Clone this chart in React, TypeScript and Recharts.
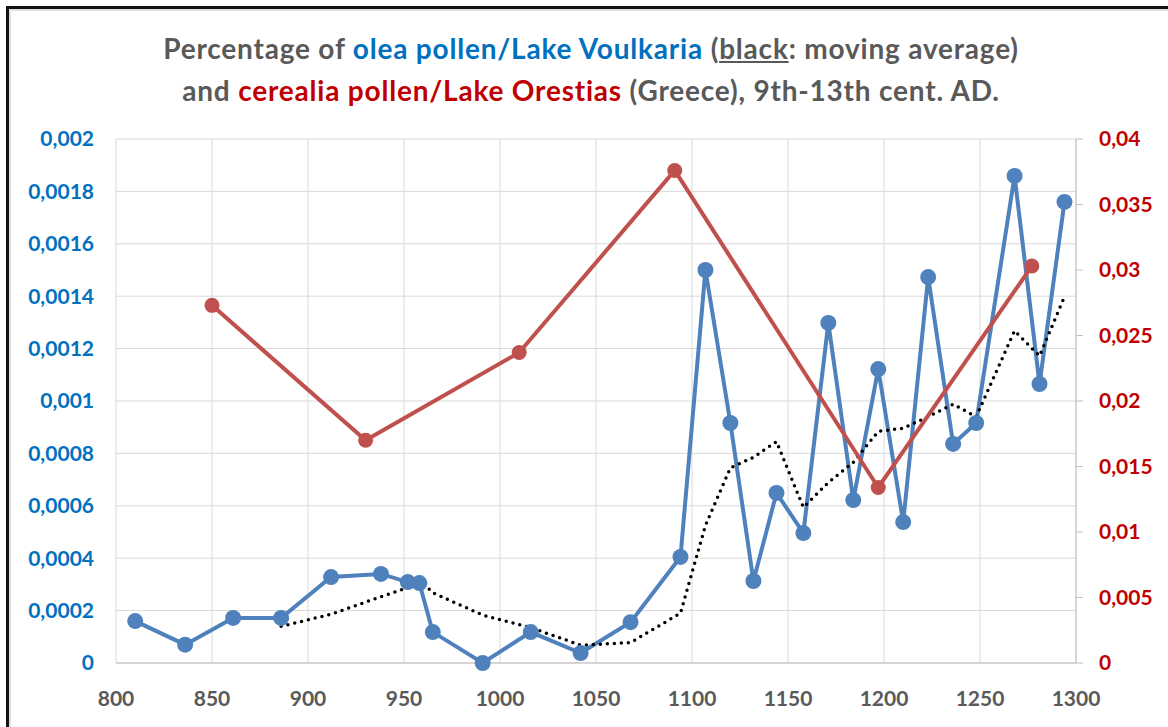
import React from "react";
import {
  ComposedChart,
  Line,
  XAxis,
  YAxis,
  CartesianGrid,
} from "recharts";

// olea pollen, Lake Voulkaria (left axis)
const oleaYears = [
  810, 836, 861, 886, 912, 938, 952, 958, 965, 991, 1016, 1042, 1068, 1094,
  1107, 1120, 1132, 1144, 1158, 1171, 1184, 1197, 1210, 1223, 1236, 1248,
  1268, 1281, 1294,
];
const oleaValues = [
  0.00016, 0.00007, 0.000172, 0.000172, 0.000328, 0.00034, 0.000309,
  0.000305, 0.000118, 0, 0.000118, 0.000038, 0.000156, 0.000405, 0.0015,
  0.000916, 0.000313, 0.000649, 0.000496, 0.001298, 0.000622, 0.001122,
  0.000538, 0.001473, 0.000836, 0.000916, 0.001859, 0.001065, 0.00176,
];

// black dotted moving average (starts at 4th point)
const avgYears = [
  886, 912, 938, 952, 958, 965, 991, 1016, 1042, 1068, 1094, 1107, 1120,
  1132, 1144, 1158, 1171, 1184, 1197, 1210, 1223, 1236, 1248, 1268, 1281,
  1294,
];
const avgValues = [
  0.00014, 0.000186, 0.000253, 0.000288, 0.00032, 0.000268, 0.000183,
  0.000135, 0.000068, 0.000078, 0.00019, 0.000525, 0.000745, 0.000785,
  0.000845, 0.000594, 0.000689, 0.000766, 0.000884, 0.000896, 0.00094,
  0.000988, 0.00094, 0.001268, 0.001172, 0.001398,
];

// cerealia pollen, Lake Orestias (right axis)
const cerealiaYears = [850, 930, 1010, 1091, 1197, 1277];
const cerealiaValues = [0.0273, 0.017, 0.0237, 0.0376, 0.0134, 0.0303];

const xTicks = [800, 850, 900, 950, 1000, 1050, 1100, 1150, 1200, 1250, 1300];
const leftTicks = [
  0, 0.0002, 0.0004, 0.0006, 0.0008, 0.001, 0.0012, 0.0014, 0.0016, 0.0018,
  0.002,
];
const rightTicks = [0, 0.005, 0.01, 0.015, 0.02, 0.025, 0.03, 0.035, 0.04];

const oleaData = oleaYears.map((x, i) => ({ x, v: oleaValues[i] }));
const avgData = avgYears.map((x, i) => ({ x, v: avgValues[i] }));
const cerealiaData = cerealiaYears.map((x, i) => ({ x, v: cerealiaValues[i] }));

const comma = (v: number) => String(v).replace(".", ",");

const FONT = "Lato, 'Open Sans', sans-serif";
const GRAY = "#595959";
const BLUE_TXT = "#0070C0";
const RED_TXT = "#C00000";

export default function App() {
  return (
    <div
      style={{
        position: "absolute",
        left: 0,
        top: 0,
        width: 1168,
        height: 727,
        background: "#fff",
        overflow: "hidden",
        fontFamily: FONT,
      }}
    >
      {/* frame */}
      <div
        style={{
          position: "absolute",
          left: 6,
          top: 6,
          width: 1200,
          height: 800,
          borderLeft: "3px solid #111",
          borderTop: "3px solid #111",
        }}
      />
      <div
        style={{
          position: "absolute",
          left: 9,
          top: 9,
          width: 1200,
          height: 800,
          borderLeft: "2px solid #e0e0e0",
          borderTop: "2px solid #e0e0e0",
        }}
      />
      <div
        style={{
          position: "absolute",
          left: 0,
          top: 27,
          width: 1182,
          textAlign: "center",
          fontSize: 28,
          letterSpacing: 0.8,
          fontWeight: 700,
          color: GRAY,
          lineHeight: "42px",
        }}
      >
        <div>
          Percentage of{" "}
          <span style={{ color: BLUE_TXT }}>olea pollen/Lake Voulkaria</span> (
          <span style={{ textDecoration: "underline" }}>black</span>: moving
          average)
        </div>
        <div>
          and{" "}
          <span style={{ color: RED_TXT }}>cerealia pollen/Lake Orestias</span>{" "}
          (Greece), 9th-13th cent. AD.
        </div>
      </div>

      <div style={{ position: "absolute", left: 0, top: 0 }}>
        <ComposedChart
          width={1168}
          height={727}
          margin={{ top: 139, right: 0, bottom: 0, left: 0 }}
        >
          <CartesianGrid yAxisId="left" stroke="#D9D9D9" strokeWidth={1} />
          <XAxis
            dataKey="x"
            type="number"
            domain={[800, 1300]}
            ticks={xTicks}
            height={64}
            tickLine={false}
            axisLine={{ stroke: "#BFBFBF" }}
            tickMargin={22}
            tick={{ fill: GRAY, fontSize: 21, fontWeight: 700, fontFamily: FONT }}
          />
          <YAxis
            yAxisId="left"
            width={116}
            domain={[0, 0.002]}
            ticks={leftTicks}
            tickFormatter={comma}
            axisLine={false}
            tickLine={false}
            tickSize={0}
            tickMargin={22}
            tick={{ fill: BLUE_TXT, fontSize: 21, fontWeight: 700, fontFamily: FONT }}
          />
          <YAxis
            yAxisId="right"
            orientation="right"
            width={92}
            domain={[0, 0.04]}
            ticks={rightTicks}
            tickFormatter={comma}
            axisLine={{ stroke: "#BFBFBF" }}
            tickLine={{ stroke: "#BFBFBF" }}
            tickSize={7}
            tickMargin={16}
            tick={{ fill: RED_TXT, fontSize: 21, fontWeight: 700, fontFamily: FONT }}
          />
          <Line
            yAxisId="left"
            data={oleaData}
            dataKey="v"
            stroke="#4F81BD"
            strokeWidth={4}
            dot={{ r: 8, fill: "#4F81BD", stroke: "#4F81BD", strokeWidth: 0 }}
            isAnimationActive={false}
          />
          <Line
            yAxisId="left"
            data={avgData}
            dataKey="v"
            stroke="#000"
            strokeWidth={3.5}
            strokeDasharray="0 7"
            strokeLinecap="round"
            dot={false}
            isAnimationActive={false}
          />
          <Line
            yAxisId="right"
            data={cerealiaData}
            dataKey="v"
            stroke="#C0504D"
            strokeWidth={4}
            dot={{ r: 7.5, fill: "#C0504D", stroke: "#C0504D", strokeWidth: 0 }}
            isAnimationActive={false}
          />
        </ComposedChart>
      </div>
    </div>
  );
}
